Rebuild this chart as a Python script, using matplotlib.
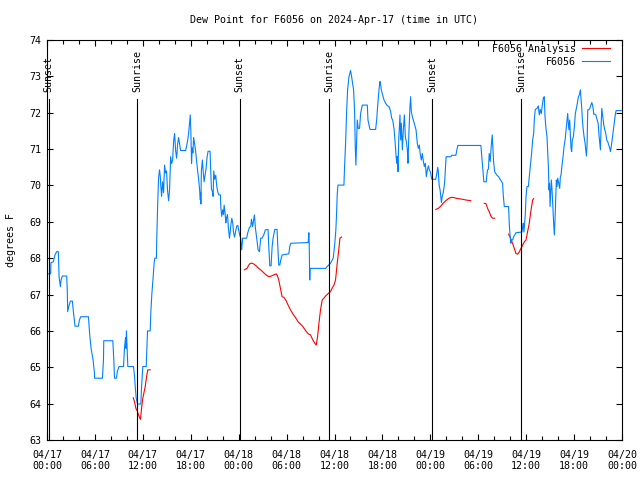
import matplotlib

matplotlib.use("Agg")
import matplotlib.pyplot as plt
import numpy as np

plt.rcParams.update({"font.family": "DejaVu Sans Mono", "font.size": 7.2})

# hours since 2024-04-17 00:00 UTC
OBS_HOURS = [
    0.0, 0.45, 0.5, 0.79, 1.0, 1.21, 1.42, 1.51, 1.67, 1.76, 1.92, 2.47, 2.55, 2.59,
    2.76, 2.93, 3.18, 3.26, 3.43, 3.51, 3.93, 4.06, 4.22, 5.19, 5.35, 5.52, 5.77,
    5.94, 5.96, 6.94, 7.07, 7.11, 8.24, 8.37, 8.45, 8.70, 8.82, 9.03, 9.58, 9.70,
    9.83, 9.9, 9.95, 10.04, 10.12, 10.83, 10.96, 11.04, 11.17, 11.33, 11.75, 11.84,
    11.92, 12.0, 12.42, 12.5, 12.59, 12.92, 13.0, 13.13, 13.3, 13.42, 13.5, 13.7,
    13.74, 13.86, 13.97, 14.09, 14.18, 14.26, 14.35, 14.47, 14.6, 14.72, 14.85,
    14.97, 15.1, 15.23, 15.35, 15.48, 15.6, 15.73, 15.85, 15.98, 16.1, 16.23, 16.36,
    16.48, 16.6, 16.73, 17.36, 17.48, 17.61, 17.73, 17.86, 17.94, 18.02, 18.1, 18.19,
    18.27, 18.36, 18.48, 18.61, 18.74, 18.86, 18.99, 19.11, 19.2, 19.23, 19.27, 19.33,
    19.46, 19.54, 19.67, 19.79, 19.92, 20.04, 20.17, 20.42, 20.5, 20.59, 20.71, 20.8,
    20.88, 21.0, 21.13, 21.26, 21.38, 21.51, 21.72, 21.76, 21.88, 22.0, 22.1, 22.18,
    22.3, 22.39, 22.47, 22.6, 22.72, 22.85, 22.93, 23.02, 23.14, 23.27, 23.35, 23.48,
    23.6, 23.77, 23.9, 23.98, 24.1, 24.13, 24.25, 24.38, 24.5, 25.0, 25.14, 25.35,
    25.51, 25.6, 25.75, 25.97, 26.1, 26.26, 26.43, 26.6, 26.76, 26.93, 27.14, 27.35,
    27.68, 27.77, 27.9, 28.06, 28.19, 28.31, 28.52, 28.81, 28.9, 29.02, 29.15, 29.27,
    29.44, 30.28, 30.4, 30.53, 32.7, 32.79, 32.83, 32.87, 32.9, 32.95, 34.9, 35.07,
    35.5, 35.84, 36.04, 36.17, 36.26, 36.34, 36.43, 37.18, 37.26, 37.39, 37.51, 37.64,
    37.81, 38.01, 38.14, 38.26, 38.39, 38.51, 38.6, 38.68, 38.77, 38.85, 38.97, 39.14,
    39.27, 39.48, 40.11, 40.19, 40.44, 41.15, 41.28, 41.4, 41.57, 41.69, 41.78, 41.86,
    42.03, 42.2, 42.41, 42.62, 42.83, 43.03, 43.16, 43.28, 43.45, 43.57, 43.7, 43.78,
    43.87, 43.95, 44.04, 44.12, 44.2, 44.29, 44.37, 44.5, 44.62, 44.75, 44.87, 45.0,
    45.12, 45.2, 45.33, 45.45, 45.53, 45.62, 45.75, 45.87, 46.04, 46.21, 46.37, 46.5,
    46.62, 46.75, 46.88, 47.0, 47.13, 47.25, 47.38, 47.5, 47.63, 47.76, 47.88, 48.0,
    48.18, 48.68, 48.81, 48.93, 49.0, 49.1, 49.22, 49.31, 49.39, 49.48, 49.6, 49.73,
    49.81, 49.9, 49.98, 50.57, 50.69, 51.2, 51.32, 51.45, 54.33, 54.45, 54.58, 54.7,
    55.0, 55.08, 55.16, 55.28, 55.37, 55.5, 55.62, 55.75, 55.83, 55.92, 56.05, 56.3,
    56.55, 56.8, 57.05, 57.13, 57.26, 57.8, 57.89, 58.01, 58.1, 58.18, 58.3, 58.43,
    58.72, 59.47, 59.56, 59.64, 59.72, 59.8, 59.89, 59.98, 60.1, 60.27, 60.39, 60.52,
    60.68, 60.81, 60.94, 61.02, 61.14, 61.36, 61.52, 61.65, 61.77, 61.9, 62.02, 62.15,
    62.27, 62.36, 62.48, 62.61, 62.69, 62.78, 62.86, 62.92, 62.99, 63.07, 63.15,
    63.24, 63.36, 63.44, 63.53, 63.61, 63.69, 63.78, 63.86, 63.95, 64.07, 64.2, 64.28,
    64.37, 64.49, 64.62, 64.74, 64.87, 65.0, 65.12, 65.2, 65.28, 65.36, 65.45, 65.53,
    65.62, 65.7, 65.78, 65.91, 66.04, 66.16, 66.29, 66.41, 66.54, 66.66, 66.79, 66.87,
    66.96, 67.04, 67.13, 67.25, 67.38, 67.46, 67.55, 67.63, 67.71, 67.84, 67.97, 68.1,
    68.22, 68.35, 68.47, 68.6, 68.72, 68.89, 69.01, 69.14, 69.22, 69.3, 69.38, 69.47,
    69.59, 69.72, 69.84, 69.97, 70.09, 70.22, 70.35, 70.47, 70.56, 70.68, 70.81,
    70.93, 71.06, 71.18, 71.27, 71.9,
]
OBS_DEWPT = [
    67.57, 67.57, 67.88, 67.9, 68.09, 68.18, 68.18, 67.49, 67.22, 67.4, 67.51, 67.51,
    67.03, 66.53, 66.7, 66.82, 66.82, 66.62, 66.3, 66.13, 66.13, 66.3, 66.39, 66.39,
    65.89, 65.52, 65.2, 64.85, 64.7, 64.7, 65.2, 65.73, 65.73, 65.2, 64.7, 64.7, 64.9,
    65.02, 65.02, 65.52, 65.82, 65.52, 66.0, 65.52, 65.02, 65.02, 64.76, 64.49, 64.15,
    63.99, 63.99, 64.46, 64.74, 65.02, 65.02, 65.5, 66.0, 66.0, 66.5, 67.02, 67.5,
    67.88, 68.0, 68.0, 68.5, 69.5, 70.2, 70.43, 70.26, 69.97, 69.7, 70.1, 69.8, 70.56,
    70.34, 70.4, 69.84, 69.58, 69.9, 70.79, 70.6, 70.7, 71.2, 71.43, 70.97, 70.75,
    71.15, 71.32, 71.15, 70.96, 70.96, 71.08, 71.24, 71.43, 71.75, 71.94, 71.43, 70.61,
    71.03, 70.9, 71.32, 71.15, 70.94, 70.66, 70.4, 70.17, 69.88, 69.6, 69.8, 69.49,
    70.4, 70.7, 70.43, 70.1, 70.28, 70.47, 70.77, 70.94, 70.94, 70.4, 69.91, 69.83,
    69.7, 70.4, 70.17, 70.28, 69.97, 69.83, 69.74, 69.74, 69.42, 69.15, 69.33, 69.2,
    69.46, 69.24, 68.97, 69.1, 69.2, 68.82, 68.55, 68.7, 68.9, 69.1, 68.95, 68.72,
    68.58, 68.72, 68.89, 68.9, 68.8, 68.67, 68.64, 68.55, 68.23, 68.55, 68.55, 68.7,
    68.85, 68.87, 69.07, 68.87, 69.19, 68.82, 68.55, 68.23, 68.18, 68.55, 68.55, 68.64,
    68.78, 68.79, 68.32, 67.79, 67.79, 68.32, 68.55, 68.79, 68.79, 68.32, 67.81, 67.81,
    67.95, 68.09, 68.12, 68.32, 68.41, 68.43, 68.7, 68.41, 67.77, 67.4, 67.72, 67.72,
    67.77, 67.86, 68.0, 68.41, 68.78, 69.23, 69.74, 70.01, 70.01, 70.52, 71.16, 71.98,
    72.63, 72.99, 73.16, 73.0, 72.81, 72.63, 72.08, 71.07, 70.56, 71.25, 71.8, 71.57,
    71.57, 71.98, 72.21, 72.21, 71.8, 71.54, 71.54, 71.8, 72.17, 72.63, 72.86, 72.77,
    72.63, 72.49, 72.35, 72.26, 72.19, 72.17, 72.03, 71.85, 71.8, 71.57, 71.25, 70.84,
    70.61, 70.8, 70.38, 71.25, 71.62, 71.94, 71.25, 71.71, 70.98, 71.53, 71.94, 71.34,
    71.2, 70.98, 70.61, 71.53, 72.17, 72.44, 72.03, 71.89, 71.8, 71.66, 71.53, 71.16,
    71.02, 71.11, 70.84, 70.7, 70.88, 70.66, 70.52, 70.61, 70.24, 70.43, 70.54, 70.43,
    70.38, 70.17, 70.17, 70.33, 70.5, 70.38, 70.01, 69.88, 69.69, 69.53, 69.69, 69.79,
    69.97, 70.15, 70.52, 70.79, 70.79, 70.83, 70.83, 70.98, 71.1, 71.1, 70.79, 70.43,
    70.1, 70.1, 70.29, 70.43, 70.45, 70.88, 70.66, 71.07, 71.39, 71.07, 70.66, 70.38,
    70.29, 70.24, 70.15, 70.06, 69.74, 69.42, 69.42, 68.91, 68.55, 68.41, 68.5, 68.5,
    68.59, 68.7, 68.72, 68.86, 68.96, 68.72, 68.96, 69.19, 69.69, 69.97, 69.97, 70.24,
    70.52, 70.88, 71.25, 71.43, 71.82, 72.09, 72.12, 72.19, 71.94, 72.09, 71.98, 72.21,
    72.4, 72.44, 71.89, 71.57, 71.34, 70.98, 70.52, 69.88, 70.06, 69.42, 69.79, 70.15,
    69.88, 69.33, 68.96, 68.64, 69.05, 69.6, 70.15, 69.97, 70.2, 70.06, 69.92, 70.24,
    70.29, 70.56, 70.79, 71.07, 71.25, 71.53, 71.8, 71.98, 71.71, 71.53, 71.8, 71.39,
    71.02, 70.93, 71.25, 71.34, 71.62, 71.98, 72.12, 72.26, 72.44, 72.49, 72.63, 72.4,
    72.12, 71.8, 71.57, 71.34, 71.16, 70.98, 70.81, 71.16, 72.08, 72.08, 72.12, 72.21,
    72.28, 72.17, 71.96, 71.96, 71.94, 71.8, 71.71, 71.34, 71.16, 70.98, 71.62, 72.12,
    71.89, 71.66, 71.53, 71.43, 71.25, 71.2, 71.11, 71.02, 70.93, 71.11, 71.34, 71.57,
    71.8, 71.98, 72.06, 72.06,
]

# analysis series, NaN marks the gaps
ANA_HOURS = [
    10.8, 10.96, 11.13, 11.3, 11.46, 11.63, 11.71, 11.84, 11.96, 12.09, 12.3, 12.5,
    12.63, 12.92, np.nan,
    24.71, 25.05, 25.26, 25.47, 25.68, 25.89, 26.18, 26.51, 26.85, 27.14, 27.43,
    27.77, 28.1, 28.4, 28.69, 28.85, 29.02, 29.23, 29.44, 29.69, 29.94, 30.19, 30.49,
    30.78, 31.11, 31.45, 31.74, 32.04, 32.37, 32.71, 33.0, 33.29, 33.54, 33.71, 33.88,
    34.05, 34.25, 34.46, 34.63, 34.88, 35.22, 35.5, 35.71, 35.92, 36.13, 36.34, 36.55,
    36.68, 36.89, np.nan,
    48.68, 49.0, 49.31, 49.6, 49.93, 50.27, 50.57, 50.86, 51.41, 52.03, 52.45, 53.07,
    np.nan,
    54.75, 54.96, 55.17, 55.37, 55.62, 55.79, 56.05, np.nan,
    57.8, 57.97, 58.13, 58.3, 58.51, 58.72, 58.93, 59.14, 59.35, 59.56, 59.77, 59.98,
    60.18, 60.39, 60.52, 60.68, 60.81, 60.94,
]
ANA_DEWPT = [
    64.16, 64.05, 63.87, 63.8, 63.69, 63.6, 63.57, 63.87, 64.1, 64.25, 64.47, 64.79,
    64.93, 64.93, np.nan,
    67.68, 67.72, 67.81, 67.86, 67.86, 67.84, 67.79, 67.72, 67.66, 67.6, 67.54, 67.49,
    67.51, 67.54, 67.57, 67.52, 67.4, 67.17, 66.94, 66.92, 66.83, 66.71, 66.58, 66.47,
    66.37, 66.25, 66.19, 66.12, 66.01, 65.92, 65.89, 65.75, 65.66, 65.61, 65.84, 66.21,
    66.58, 66.85, 66.89, 66.96, 67.03, 67.08, 67.18, 67.25, 67.4, 67.86, 68.27, 68.55,
    68.58, np.nan,
    69.34, 69.37, 69.43, 69.51, 69.58, 69.64, 69.67, 69.67, 69.64, 69.62, 69.6, 69.58,
    np.nan,
    69.51, 69.5, 69.37, 69.28, 69.14, 69.1, 69.1, np.nan,
    68.66, 68.59, 68.5, 68.41, 68.27, 68.13, 68.11, 68.17, 68.27, 68.36, 68.45, 68.5,
    68.73, 68.96, 69.19, 69.42, 69.6, 69.64,
]

SUN_HOURS = [0.2, 11.29, 24.13, 35.3, 48.26, 59.39]
SUN_LABELS = ["Sunset", "Sunrise", "Sunset", "Sunrise", "Sunset", "Sunrise"]

XTICKS = [0, 6, 12, 18, 24, 30, 36, 42, 48, 54, 60, 66, 72]
XTICK_LABELS = [
    "04/17\n00:00", "04/17\n06:00", "04/17\n12:00", "04/17\n18:00",
    "04/18\n00:00", "04/18\n06:00", "04/18\n12:00", "04/18\n18:00",
    "04/19\n00:00", "04/19\n06:00", "04/19\n12:00", "04/19\n18:00",
    "04/20\n00:00",
]
YTICKS = list(range(63, 75))

RED, BLUE = "#ff0000", "#0080ff"
FS = 7.2

fig = plt.figure(figsize=(6.4, 4.8), dpi=100)
ax = fig.add_axes([47 / 640, 40 / 480, 575 / 640, 400 / 480])

ana_line, = ax.plot(ANA_HOURS, ANA_DEWPT, color=RED, lw=0.8)
obs_line, = ax.plot(OBS_HOURS, OBS_DEWPT, color=BLUE, lw=0.8)

for h, lab in zip(SUN_HOURS, SUN_LABELS):
    ax.axvline(h, ymin=0, ymax=0.852, color="black", lw=0.8)
    ax.text(h, 0.87, lab, transform=ax.get_xaxis_transform(), rotation=90,
            ha="center", va="bottom", fontsize=FS)

ax.set_xlim(0, 72)
ax.set_ylim(63, 74)
ax.set_xticks(XTICKS)
ax.set_xticklabels(XTICK_LABELS)
ax.set_xticks(np.arange(0, 73, 2), minor=True)
ax.set_yticks(YTICKS)
ax.tick_params(which="both", direction="in", top=True, right=True, width=0.8,
               labelsize=FS)
ax.tick_params(which="major", length=4.5)
ax.tick_params(which="minor", length=3)
ax.tick_params(axis="x", pad=7)
ax.tick_params(axis="y", pad=4)
for s in ax.spines.values():
    s.set_linewidth(0.8)

ax.set_title("Dew Point for F6056 on 2024-Apr-17 (time in UTC)", fontsize=FS, pad=12)
ax.set_ylabel("degrees F", fontsize=FS)
ax.yaxis.set_label_coords(-0.054, 0.5)

# the legend sits over the last "Sunrise" label, as in the source chart
ax.legend([ana_line, obs_line], ["F6056 Analysis", "F6056"], loc="upper right",
          bbox_to_anchor=(0.979, 0.99), frameon=False, markerfirst=False,
          handlelength=2.75, handletextpad=0.65, labelspacing=0.3,
          borderaxespad=0, borderpad=0, fontsize=FS)

fig.savefig("out.png", dpi=100)
